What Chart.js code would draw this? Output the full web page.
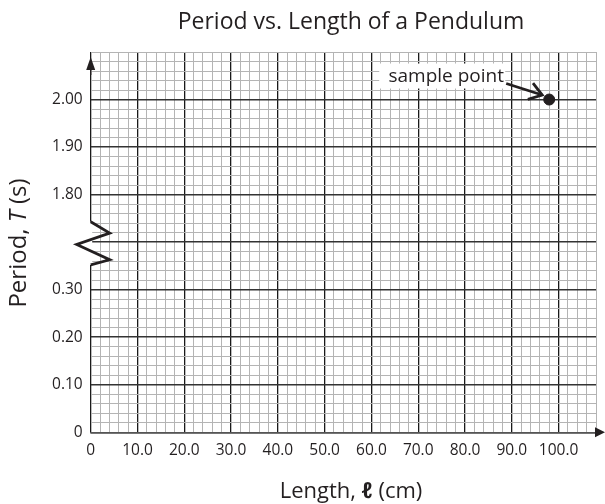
<!DOCTYPE html>
<html><head><meta charset="utf-8">
<script src="https://cdn.jsdelivr.net/npm/chart.js@4.4.1/dist/chart.umd.min.js"></script>
<style>html,body{margin:0;padding:0;background:#fff;}#wrap{width:605px;height:504px;position:relative;}</style>
</head><body><div id="wrap"><canvas id="c" width="605" height="504"></canvas></div>
<script>
const chartTitle = 'Period vs. Length of a Pendulum';
const xAxisTitle = ['Length, ', 'ℓ', ' (cm)'];
const yAxisTitle = ['Period, ', 'T', ' (s)'];
const pointLabel = 'sample point';
const lengths = [98.0];
const periods = [2.00];
const xTickLabels = ['0','10.0','20.0','30.0','40.0','50.0','60.0','70.0','80.0','90.0','100.0'];
const yTickLabels = ['0','0.10','0.20','0.30','','1.80','1.90','2.00',''];
const xMax = 108, xMinor = 2;
const yRows = 8, yMinorPerRow = 5;
// broken axis: rows 0-3 hold 0-0.30 s, row 4 is the break, rows 5-7 hold 1.80-2.00 s
function periodToRow(v){ return v >= 1 ? 5 + (v - 1.80) / 0.10 : v / 0.10; }

const FONT = "'Open Sans', 'Noto Sans', sans-serif";
const INK = '#231f20';

const decor = {
  id: 'decor',
  afterDraw(chart){
    const {ctx, chartArea: a, scales: {x, y}} = chart;
    const ax = x.getPixelForValue(0);
    const ay = y.getPixelForValue(0);
    ctx.save();
    // gap in y axis for the break
    const gTop = y.getPixelForValue(4.43), gBot = y.getPixelForValue(3.52);
    ctx.fillStyle = '#fff';
    ctx.fillRect(ax - 1.5, gTop, 3, gBot - gTop);
    // zigzag
    ctx.strokeStyle = INK; ctx.lineWidth = 2.8; ctx.lineJoin = 'miter';
    ctx.beginPath();
    ctx.moveTo(ax, gTop);
    ctx.lineTo(ax + 19, y.getPixelForValue(4.19));
    ctx.lineTo(ax - 14, y.getPixelForValue(3.95));
    ctx.lineTo(ax + 19, y.getPixelForValue(3.63));
    ctx.lineTo(ax, gBot);
    ctx.stroke();
    // arrows
    ctx.fillStyle = INK;
    ctx.beginPath();
    ctx.moveTo(ax, a.top + 5); ctx.lineTo(ax - 4.5, a.top + 18); ctx.lineTo(ax + 4.5, a.top + 18);
    ctx.closePath(); ctx.fill();
    ctx.fillRect(ax - 0.7, a.top + 17, 1.4, 6);
    ctx.beginPath();
    ctx.moveTo(chart.width, ay); ctx.lineTo(chart.width - 10, ay - 5); ctx.lineTo(chart.width - 10, ay + 5);
    ctx.closePath(); ctx.fill();
    // sample point label
    const px = x.getPixelForValue(lengths[0]);
    const py = y.getPixelForValue(periodToRow(periods[0]));
    ctx.fillStyle = '#fff';
    ctx.fillRect(px - 170, py - 36, 126, 25);
    ctx.fillStyle = INK;
    ctx.font = '19px ' + FONT;
    ctx.textAlign = 'center'; ctx.textBaseline = 'alphabetic';
    ctx.fillText(pointLabel, px - 103, py - 18);
    const tx = px - 7, ty = py - 4.5, sx = px - 43, sy = py - 16;
    ctx.lineWidth = 2.8; ctx.lineCap = 'butt';
    ctx.beginPath(); ctx.moveTo(sx, sy); ctx.lineTo(tx, ty); ctx.stroke();
    const ang = Math.atan2(sy - ty, sx - tx);
    ctx.beginPath();
    ctx.moveTo(tx + 15 * Math.cos(ang + 0.6), ty + 15 * Math.sin(ang + 0.6));
    ctx.lineTo(tx, ty);
    ctx.lineTo(tx + 15 * Math.cos(ang - 0.6), ty + 15 * Math.sin(ang - 0.6));
    ctx.stroke();
    // titles
    ctx.fillStyle = INK;
    ctx.font = '23px ' + FONT;
    ctx.textAlign = 'center'; ctx.textBaseline = 'alphabetic';
    ctx.fillText(chartTitle, 351, 29);
    drawRich(ctx, xAxisTitle, 351, 498, 0, 22, 'italic bold ');
    drawRich(ctx, yAxisTitle, 26, 243, -Math.PI / 2, 24, 'italic ');
    ctx.restore();
  }
};
function drawRich(ctx, parts, cx, cy, rot, size, midStyle){
  const fonts = [size + 'px ' + FONT, midStyle + size + 'px ' + FONT, size + 'px ' + FONT];
  let w = 0; const ws = [];
  parts.forEach((p, i) => { ctx.font = fonts[i]; const m = ctx.measureText(p).width; ws.push(m); w += m; });
  ctx.save();
  ctx.translate(cx, cy); ctx.rotate(rot);
  ctx.textAlign = 'left'; ctx.textBaseline = 'alphabetic';
  let xx = -w / 2;
  parts.forEach((p, i) => { ctx.font = fonts[i]; ctx.fillText(p, xx, 0); xx += ws[i]; });
  ctx.restore();
}

new Chart(document.getElementById('c'), {
  type: 'scatter',
  data: { datasets: [{ data: lengths.map((l, i) => ({x: l, y: periodToRow(periods[i])})),
    backgroundColor: INK, borderColor: INK, pointRadius: 5.5, pointHoverRadius: 5.5 }] },
  options: {
    responsive: false, animation: false,
    events: [],
    layout: { padding: { top: 52, right: 1, left: 0, bottom: 0 } },
    plugins: { legend: { display: false }, title: { display: false }, tooltip: { enabled: false } },
    scales: {
      x: {
        type: 'linear', min: 0, max: xMax,
        afterFit(s){ s.height = 504 - 432.3; },
        afterBuildTicks(s){ const t = []; for (let v = 0; v <= xMax; v += xMinor) t.push({value: v}); s.ticks = t; },
        ticks: { autoSkip: false, maxRotation: 0, padding: 9, color: INK, font: { family: FONT, size: 15.5 },
          callback: (v) => (v % 10 === 0 && xTickLabels[v / 10] !== undefined) ? xTickLabels[v / 10] : '' },
        grid: { drawTicks: false, tickLength: 0,
          color: (c) => c.tick && c.tick.value % 10 === 0 ? '#1a1a1a' : '#b4b4b4',
          lineWidth: (c) => c.tick && c.tick.value % 10 === 0 ? 1.3 : 1 },
        border: { display: true, color: '#555', width: 1.5 }
      },
      y: {
        type: 'linear', min: 0, max: yRows,
        afterFit(s){ s.width = 90.7; },
        afterBuildTicks(s){ const t = []; for (let k = 0; k <= yRows * yMinorPerRow; k++) t.push({value: k / yMinorPerRow}); s.ticks = t; },
        ticks: { autoSkip: false, padding: 8, color: INK, font: { family: FONT, size: 15.5 },
          callback: (v) => { const k = Math.round(v * yMinorPerRow); return k % yMinorPerRow === 0 ? yTickLabels[k / yMinorPerRow] : ''; } },
        grid: { drawTicks: false, tickLength: 0,
          color: (c) => { if (!c.tick) return '#b4b4b4'; const k = Math.round(c.tick.value * yMinorPerRow); return (k % yMinorPerRow === 0 && k < yRows * yMinorPerRow) ? '#333' : '#b4b4b4'; },
          lineWidth: (c) => { if (!c.tick) return 1; const k = Math.round(c.tick.value * yMinorPerRow); return (k % yMinorPerRow === 0 && k < yRows * yMinorPerRow) ? 1.5 : 1; } },
        border: { display: false }
      }
    }
  },
  plugins: [decor]
});
</script></body></html>
